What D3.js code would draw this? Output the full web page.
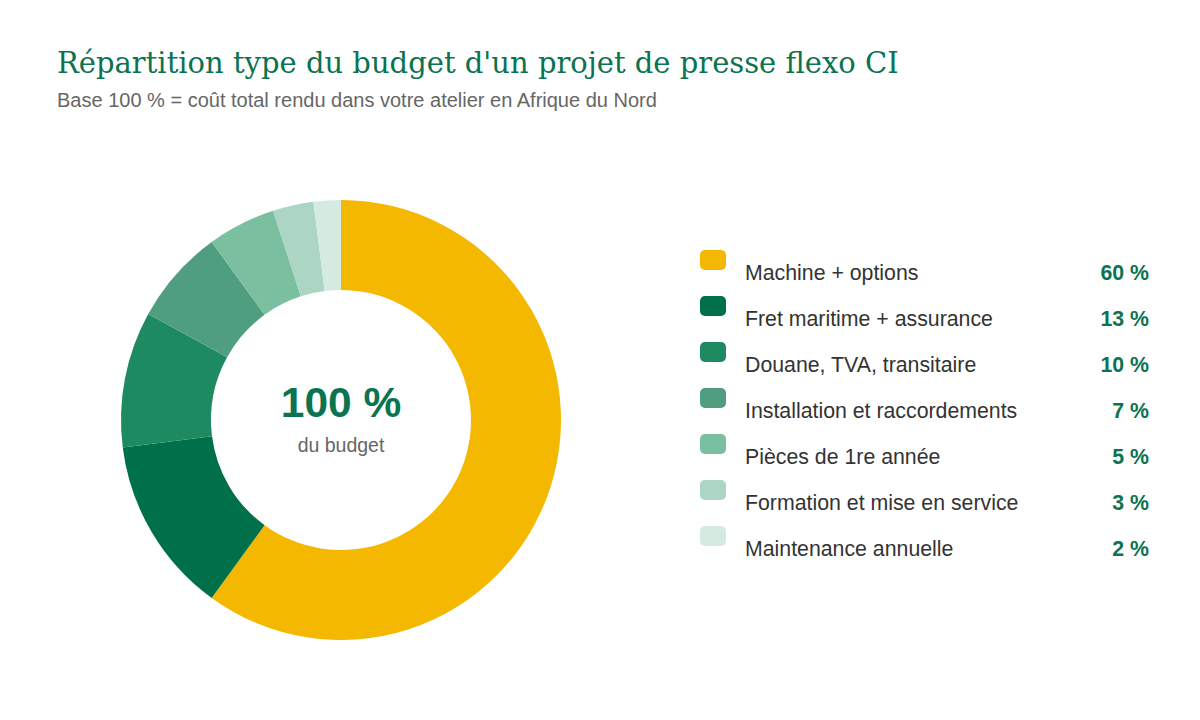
<!DOCTYPE html>
<html>
<head>
<meta charset="utf-8">
<script src="https://cdn.jsdelivr.net/npm/d3@7"></script>
<style>
  body { margin: 0; background: #fff; }
</style>
</head>
<body>
<div class="canvas"></div>
<script>
const categories = [
  'Machine + options',
  'Fret maritime + assurance',
  'Douane, TVA, transitaire',
  'Installation et raccordements',
  'Pièces de 1re année',
  'Formation et mise en service',
  'Maintenance annuelle',
];
const shares = [60, 13, 10, 7, 5, 3, 2];
const colours = ['#f4b800', '#00704a', '#1e8a62', '#4f9e7f', '#7bbfa1', '#aad6c3', '#d5ebe2'];

const dims = { width: 1200, height: 720, outer: 220, inner: 130 };
const center = { x: 341, y: 420 };

const data = categories.map((name, i) => ({ name, share: shares[i] }));

const svg = d3
  .select('.canvas')
  .append('svg')
  .attr('width', dims.width)
  .attr('height', dims.height);

// title + subtitle
svg.append('text')
  .attr('x', 57)
  .attr('y', 73)
  .attr('font-family', 'Georgia, "DejaVu Serif", serif')
  .attr('font-size', 29)
  .attr('fill', '#0b7350')
  .text("Répartition type du budget d'un projet de presse flexo CI");

svg.append('text')
  .attr('x', 57)
  .attr('y', 107)
  .attr('font-family', '"Liberation Sans", Arial, sans-serif')
  .attr('font-size', 20)
  .attr('fill', '#666')
  .text('Base 100 % = coût total rendu dans votre atelier en Afrique du Nord');

const colour = d3.scaleOrdinal().domain(categories).range(colours);

const pie = d3.pie().sort(null).value((d) => d.share);
const arcPath = d3.arc().outerRadius(dims.outer).innerRadius(dims.inner);

const graph = svg.append('g')
  .attr('transform', `translate(${center.x}, ${center.y})`);

graph.selectAll('path')
  .data(pie(data))
  .enter()
  .append('path')
  .attr('d', arcPath)
  .attr('fill', (d) => colour(d.data.name));

// centre label
graph.append('text')
  .attr('text-anchor', 'middle')
  .attr('y', -3)
  .attr('font-family', '"Liberation Sans", Arial, sans-serif')
  .attr('font-weight', 'bold')
  .attr('font-size', 42.5)
  .attr('fill', '#0b7350')
  .text(`${d3.sum(shares)} %`);

graph.append('text')
  .attr('text-anchor', 'middle')
  .attr('y', 32)
  .attr('font-family', '"Liberation Sans", Arial, sans-serif')
  .attr('font-size', 19.5)
  .attr('fill', '#666')
  .text('du budget');

// legend
const legendY = d3.scaleBand().domain(categories).range([250, 572]);

const rows = svg.append('g')
  .selectAll('g')
  .data(data)
  .enter()
  .append('g')
  .attr('transform', (d) => `translate(700, ${legendY(d.name)})`);

rows.append('rect')
  .attr('width', 26)
  .attr('height', 20)
  .attr('rx', 5)
  .attr('fill', (d) => colour(d.name));

rows.append('text')
  .attr('x', 45)
  .attr('y', 30)
  .attr('font-family', '"Liberation Sans", Arial, sans-serif')
  .attr('font-size', 21.3)
  .attr('fill', '#333')
  .text((d) => d.name);

rows.append('text')
  .attr('x', 449)
  .attr('y', 30)
  .attr('text-anchor', 'end')
  .attr('font-family', '"Liberation Sans", Arial, sans-serif')
  .attr('font-weight', 'bold')
  .attr('font-size', 21.3)
  .attr('fill', '#0b7350')
  .text((d) => `${d.share} %`);
</script>
</body>
</html>
